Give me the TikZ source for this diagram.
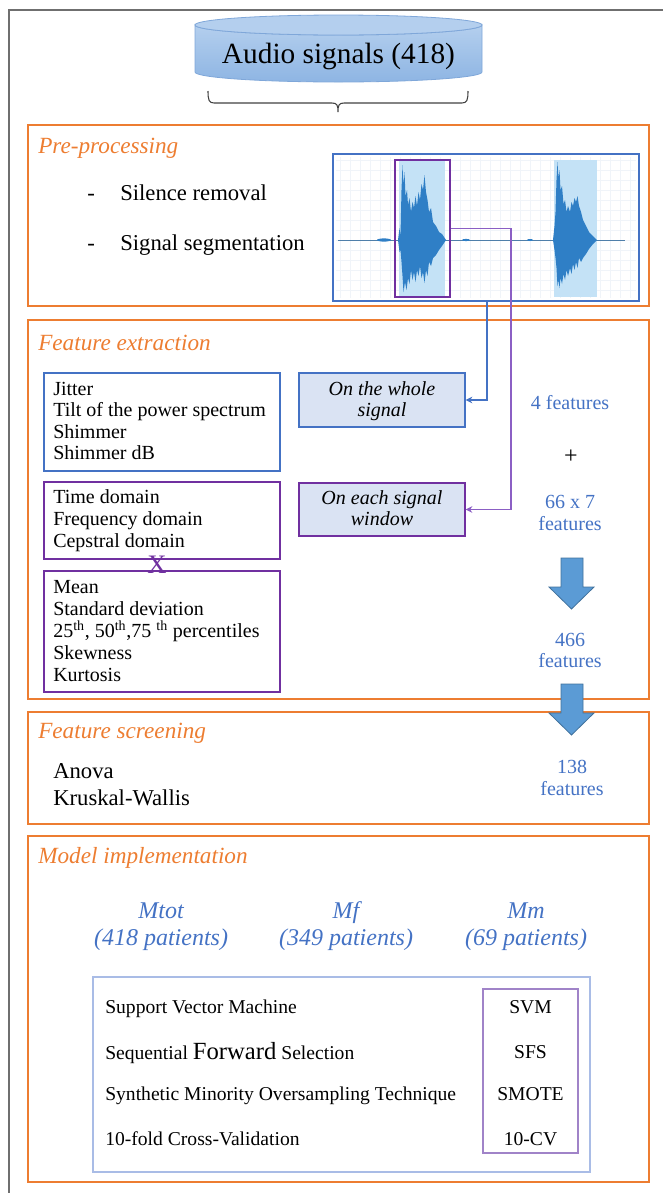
\documentclass[tikz,border=0pt]{standalone}
\usepackage{fontspec}
\setmainfont{Liberation Serif}
\usetikzlibrary{arrows.meta,fit}
\definecolor{orng}{HTML}{ED7D31}
\definecolor{bl}{HTML}{4472C4}
\definecolor{pur}{HTML}{7030A0}
\definecolor{lpur}{HTML}{8B5FC4}
\definecolor{lfill}{HTML}{DAE3F3}
\definecolor{arw}{HTML}{5B9BD5}
\definecolor{arwb}{HTML}{41719C}
\definecolor{wave}{HTML}{2F7FC6}
\definecolor{band}{HTML}{C4E2F6}
\definecolor{cyltop}{HTML}{B4CFEE}
\definecolor{cylbot}{HTML}{8EB5E3}
\definecolor{cylb}{HTML}{7FA7D9}
\definecolor{framec}{HTML}{6F6F6F}
\definecolor{innerb}{HTML}{A9BCE6}
\definecolor{innerp}{HTML}{A083C8}
\definecolor{gridc}{HTML}{F0F4F9}
\newcommand{\myfs}[1]{\fontsize{#1}{#1}\selectfont}
\tikzset{
  stage/.style={draw=orng, line width=1.9pt, inner sep=0pt},
  listbox/.style={draw=#1, line width=0.9pt, inner sep=0pt, fill=white},
  modebox/.style={draw=#1, line width=1pt, inner sep=0pt, fill=lfill},
  ttl/.style={font=\myfs{17.4}\itshape, text=orng, anchor=base west, inner sep=0pt},
  body/.style={font=\myfs{15}, anchor=base west, inner sep=0pt},
  modet/.style={font=\myfs{15}\itshape, anchor=base, inner sep=0pt},
  bluet/.style={font=\myfs{15}, text=bl, anchor=base, inner sep=0pt},
  patt/.style={font=\myfs{18}\itshape, text=bl, anchor=base, inner sep=0pt},
  mlt/.style={font=\myfs{14.7}, anchor=base west, inner sep=0pt},
  mrt/.style={font=\myfs{14.7}, anchor=base, inner sep=0pt},
  bigarrow/.style={fill=arw, draw=arwb, line width=0.6pt},
  conn/.style={line width=0.9pt, -{Stealth[length=5pt,width=5pt]}}
}
\begin{document}
\begin{tikzpicture}[x=0.75pt,y=-0.75pt]
\useasboundingbox (0,0) rectangle (663,1193);
% outer frame (left and top)
\draw[framec, line width=1.3pt] (9,1193) -- (9,10) -- (663,10);

% cylinder
\path[top color=cyltop, bottom color=cylbot, draw=cylb, line width=0.6pt]
  (195,25) -- (195,72) arc[x radius=143.5, y radius=10, start angle=180, end angle=0]
  -- (482,25) arc[x radius=143.5, y radius=10, start angle=0, end angle=180] -- cycle;
\path[fill=cyltop, draw=cylb, line width=0.6pt] (338.5,25) ellipse[x radius=143.5, y radius=10];
\node[font=\myfs{22}, anchor=base, inner sep=0pt] (audio) at (338.5,63) {Audio signals (418)};

% brace
\draw[black!75, line width=0.8pt]
  (208,91) .. controls (208,100) and (209,103) .. (214,103) -- (332,103)
  .. controls (337,103) and (338,105) .. (338,112)
  .. controls (338,105) and (339,103) .. (344,103) -- (462,103)
  .. controls (467,103) and (468,100) .. (468,91);

% ---------- Pre-processing ----------
\node[stage, fit={(28,125) (649,306)}] (pre) {};
\node[ttl] (pret) at (38,153) {Pre-processing};
\node[font=\myfs{17}, anchor=base west, inner sep=0pt] (d1) at (87,200) {-};
\node[font=\myfs{17}, anchor=base west, inner sep=0pt] (s1) at (120,200) {Silence removal};
\node[font=\myfs{17}, anchor=base west, inner sep=0pt] (d2) at (87,250) {-};
\node[font=\myfs{17}, anchor=base west, inner sep=0pt] (s2) at (120,250) {Signal segmentation};

% signal picture
\node[draw=bl, line width=0.9pt, fill=white, inner sep=0pt, fit={(333,154) (639,301)}] (img) {};
\begin{scope}
\clip (336,157) rectangle (636,298);
\foreach \gx in {340,350,...,630} \draw[gridc, line width=0.3pt] (\gx,157) -- (\gx,298);
\foreach \gy in {160,170,...,295} \draw[gridc, line width=0.3pt] (336,\gy) -- (636,\gy);
\end{scope}
\fill[band] (399,160) rectangle (445,297);
\fill[band] (554,160) rectangle (597,297);
\draw[wave!60!gray, line width=0.5pt] (338,240) -- (625,240);
\fill[wave] (384,240) ellipse[x radius=7, y radius=1.6];
\fill[wave] (466,240) ellipse[x radius=4, y radius=1.1];
\fill[wave] (530,240) ellipse[x radius=3, y radius=1];
\fill[wave] (398,240) -- (399.5,228) -- (400.5,236) -- (401.5,190) -- (402.5,165) -- (403.5,185)
  -- (404.5,172) -- (405.5,196) -- (407,190) -- (408,205) -- (409.5,198) -- (411,212) -- (412.5,202)
  -- (414,208) -- (415.5,196) -- (417,206) -- (418.5,192) -- (420,200) -- (421.5,184) -- (423,190)
  -- (424.5,175) -- (426,192) -- (427.5,200) -- (429,212) -- (431,208) -- (433,222) -- (436,226)
  -- (439,232) -- (442,234) -- (446,240)
  -- (442,246) -- (439,250) -- (436,255) -- (433,258) -- (431,266) -- (429,262) -- (427.5,276)
  -- (426,270) -- (424.5,283) -- (423,272) -- (421.5,278) -- (420,266) -- (418.5,276) -- (417,270)
  -- (415.5,282) -- (414,272) -- (412.5,280) -- (411,270) -- (409.5,284) -- (408,278) -- (406.5,290)
  -- (405,282) -- (403.5,292) -- (402.5,276) -- (401.5,262) -- (400.5,250) -- (399.5,252) -- cycle;
\fill[wave] (553,240) -- (554.5,226) -- (555.5,212) -- (556.5,180) -- (557.5,162) -- (558.5,178)
  -- (559.5,170) -- (560.5,190) -- (562,186) -- (563.5,204) -- (565,200) -- (566.5,212) -- (568,206)
  -- (570,212) -- (571.5,202) -- (573,206) -- (574.5,198) -- (576,202) -- (577.5,196) -- (579,206)
  -- (581,212) -- (583,220) -- (586,226) -- (589,232) -- (593,236) -- (597,240)
  -- (593,244) -- (589,249) -- (586,254) -- (583,258) -- (581,262) -- (579,258) -- (577.5,268)
  -- (576,262) -- (574.5,270) -- (573,264) -- (571.5,274) -- (570,268) -- (568,276) -- (566.5,270)
  -- (565,280) -- (563.5,274) -- (562,284) -- (560.5,278) -- (559.5,288) -- (558.5,280) -- (557.5,286)
  -- (556.5,268) -- (555.5,258) -- (554.5,250) -- cycle;
\node[draw=pur, line width=1pt, inner sep=0pt, fit={(395,160) (450,297)}] (win) {};

% ---------- Feature extraction ----------
\node[stage, fit={(28,320) (649,699)}] (fe) {};
\node[ttl] (fet) at (38,350) {Feature extraction};

\node[listbox=bl, fit={(44,373) (280,471)}] (b1) {};
\node[body] (b1a) at (53,395) {Jitter};
\node[body] (b1b) at (53,416.5) {Tilt of the power spectrum};
\node[body] (b1c) at (53,438) {Shimmer};
\node[body] (b1d) at (53,459.5) {Shimmer dB};

\node[listbox=pur, fit={(44,482) (280,559)}] (b2) {};
\node[body] (b2a) at (53,503) {Time domain};
\node[body] (b2b) at (53,525) {Frequency domain};
\node[body] (b2c) at (53,547) {Cepstral domain};

\node[listbox=pur, fit={(44,571) (280,692)}] (b3) {};
\node[body] (b3a) at (53,593) {Mean};
\node[body] (b3b) at (53,615) {Standard deviation};
\node[body] (b3c) at (53,637) {25\textsuperscript{th}, 50\textsuperscript{th},75 \textsuperscript{th} percentiles};
\node[body] (b3d) at (53,659) {Skewness};
\node[body] (b3e) at (53,681) {Kurtosis};

\node[font=\myfs{20}, text=pur, inner sep=0pt] (cross) at (157,565) {X};

\node[modebox=bl, fit={(299,373) (465,427)}] (whole) {};
\node[modet] (w1) at (382,395) {On the whole};
\node[modet] (w2) at (382,416) {signal};

\node[modebox=pur, fit={(299,483) (465,536)}] (each) {};
\node[modet] (e1) at (382,504) {On each signal};
\node[modet] (e2) at (382,525) {window};

\coordinate (bx) at (487,0);
\coordinate (px) at (511,0);
\draw[conn, bl] (bx |- img.south) |- (whole.east);
\draw[conn, lpur] (win.east) -- (win.east -| px) |- (each.east);

\node[bluet] (f4) at (570,409) {4 features};
\node[font=\myfs{18}, inner sep=0pt] (plus) at (571,457) {+};
\node[bluet] (f66a) at (570,508) {66 x 7};
\node[bluet] (f66b) at (570,530) {features};

\path[bigarrow] (561,558) -- (583,558) -- (583,587) -- (594,587) -- (571.5,609) -- (549,587) -- (561,587) -- cycle;
\node[bluet] (f466a) at (570,646) {466};
\node[bluet] (f466b) at (570,667) {features};

% ---------- Feature screening ----------
\node[stage, fit={(28,712) (649,824)}] (fs) {};
\node[ttl] (fst) at (38,738) {Feature screening};
\node[font=\myfs{17}, anchor=base west, inner sep=0pt] (an) at (53,778) {Anova};
\node[font=\myfs{17}, anchor=base west, inner sep=0pt] (kw) at (53,805) {Kruskal-Wallis};
\node[bluet] (f138a) at (572,773) {138};
\node[bluet] (f138b) at (572,795) {features};
\path[bigarrow] (561,684) -- (583,684) -- (583,713) -- (594,713) -- (571.5,735) -- (549,713) -- (561,713) -- cycle;

% ---------- Model implementation ----------
\node[stage, fit={(28,836) (649,1182)}] (mi) {};
\node[ttl] (mit) at (38,863) {Model implementation};
\node[patt] (m1a) at (161,918) {Mtot};
\node[patt] (m1b) at (161,945) {(418 patients)};
\node[patt] (m2a) at (346,918) {Mf};
\node[patt] (m2b) at (346,945) {(349 patients)};
\node[patt] (m3a) at (526,918) {Mm};
\node[patt] (m3b) at (526,945) {(69 patients)};

\node[draw=innerb, line width=0.9pt, inner sep=0pt, fit={(93,977) (590,1172)}] (inner) {};
\node[draw=innerp, line width=1pt, inner sep=0pt, fit={(483,989) (578,1153)}] (abbr) {};
\node[mlt] (l1) at (105,1013) {Support Vector Machine};
\node[mlt] (l2) at (105,1059) {Sequential {\myfs{18.5}Forward} Selection};
\node[mlt] (l3) at (105,1100) {Synthetic Minority Oversampling Technique};
\node[mlt] (l4) at (105,1145) {10-fold Cross-Validation};
\node[mrt] (r1) at (530.5,1013) {SVM};
\node[mrt] (r2) at (530.5,1058) {SFS};
\node[mrt] (r3) at (530.5,1100) {SMOTE};
\node[mrt] (r4) at (530.5,1145) {10-CV};
\end{tikzpicture}
\end{document}
